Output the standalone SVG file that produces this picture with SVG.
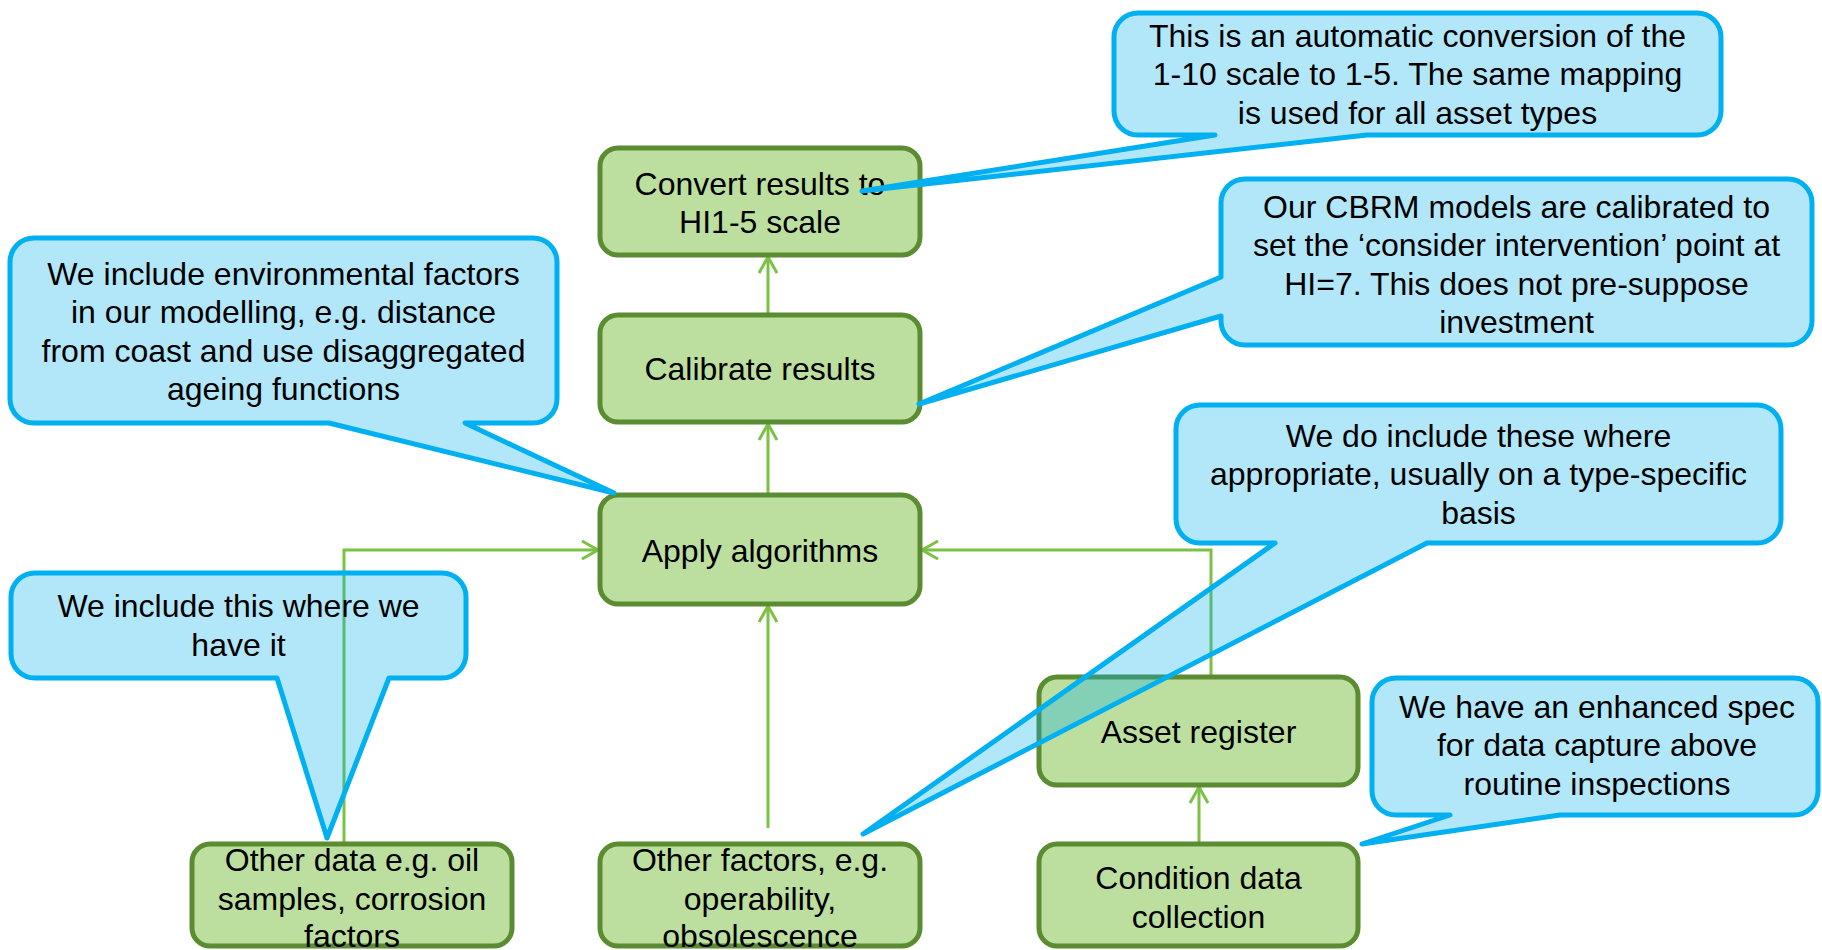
<svg xmlns="http://www.w3.org/2000/svg" width="1822" height="950" viewBox="0 0 1822 950">
  <style>
    .box { fill: #BCDFA0; stroke: #5B8C32; stroke-width: 5; }
    .call { fill: #00B0F0; fill-opacity: 0.3; stroke: #00B0F0; stroke-width: 5; stroke-linejoin: round; }
    .link { fill: none; stroke: #7BC143; stroke-width: 3; }
    text { font-family: "Liberation Sans", Arial, sans-serif; font-size: 32px; fill: #000; text-anchor: middle; }
  </style>
  <defs>
    <marker id="open-arrow" viewBox="0 0 20 20" refX="18" refY="10" markerWidth="20" markerHeight="20" markerUnits="userSpaceOnUse" orient="auto">
      <path d="M2,1 L18,10 L2,19" fill="none" stroke="#7BC143" stroke-width="3"/>
    </marker>
  </defs>
  <rect width="1822" height="950" fill="#FFFFFF"/>

  <!-- flow connectors -->
  <g id="connectors">
    <path class="link" d="M768,315 V257" marker-end="url(#open-arrow)"/>
    <path class="link" d="M768,495 V424" marker-end="url(#open-arrow)"/>
    <path class="link" d="M768,828 V606" marker-end="url(#open-arrow)"/>
    <path class="link" d="M344,844 V550 H598" marker-end="url(#open-arrow)"/>
    <path class="link" d="M1211,677 V550 H922" marker-end="url(#open-arrow)"/>
    <path class="link" d="M1199,843 V787" marker-end="url(#open-arrow)"/>
  </g>

  <!-- process boxes -->
  <g id="convert">
    <rect class="box" x="600" y="148" width="320" height="107" rx="18"/>
    <text x="760" y="195">Convert results to</text>
    <text x="760" y="233">HI1-5 scale</text>
  </g>
  <g id="calibrate">
    <rect class="box" x="600" y="315" width="320" height="107" rx="18"/>
    <text x="760" y="380">Calibrate results</text>
  </g>
  <g id="apply">
    <rect class="box" x="600" y="495" width="320" height="109" rx="18"/>
    <text x="760" y="562">Apply algorithms</text>
  </g>
  <g id="asset-register">
    <rect class="box" x="1039" y="677" width="319" height="108" rx="18"/>
    <text x="1198.5" y="743">Asset register</text>
  </g>
  <g id="condition-data">
    <rect class="box" x="1039" y="844" width="319" height="102" rx="18"/>
    <text x="1198.5" y="889">Condition data</text>
    <text x="1198.5" y="928">collection</text>
  </g>
  <g id="other-factors">
    <rect class="box" x="600" y="844" width="320" height="102" rx="18"/>
    <text x="760" y="871">Other factors, e.g.</text>
    <text x="760" y="910">operability,</text>
    <text x="760" y="947">obsolescence</text>
  </g>
  <g id="other-data">
    <rect class="box" x="192" y="844" width="320" height="102" rx="18"/>
    <text x="352" y="871">Other data e.g. oil</text>
    <text x="352" y="910">samples, corrosion</text>
    <text x="352" y="947">factors</text>
  </g>

  <!-- speech-bubble notes -->
  <g id="note-conversion">
    <path class="call" d="M1138,13 H1697 A24,24 0 0 1 1721,37 V111 A24,24 0 0 1 1697,135 H1367 L862,191 L1215,135 H1138 A24,24 0 0 1 1114,111 V37 A24,24 0 0 1 1138,13 Z"/>
    <text x="1417.5" y="47">This is an automatic conversion of the</text>
    <text x="1417.5" y="85.4">1-10 scale to 1-5. The same mapping</text>
    <text x="1417.5" y="123.8">is used for all asset types</text>
  </g>
  <g id="note-calibration">
    <path class="call" d="M1245,179 H1788 A24,24 0 0 1 1812,203 V321 A24,24 0 0 1 1788,345 H1245 A24,24 0 0 1 1221,321 V316 L919,404 L1221,277 V203 A24,24 0 0 1 1245,179 Z"/>
    <text x="1516.5" y="218">Our CBRM models are calibrated to</text>
    <text x="1516.5" y="256.4">set the ‘consider intervention’ point at</text>
    <text x="1516.5" y="294.8">HI=7. This does not pre-suppose</text>
    <text x="1516.5" y="333.2">investment</text>
  </g>
  <g id="note-environment">
    <path class="call" d="M34,238 H533 A24,24 0 0 1 557,262 V399 A24,24 0 0 1 533,423 H465 L614,493 L329,423 H34 A24,24 0 0 1 10,399 V262 A24,24 0 0 1 34,238 Z"/>
    <text x="283.5" y="285">We include environmental factors</text>
    <text x="283.5" y="323.4">in our modelling, e.g. distance</text>
    <text x="283.5" y="361.8">from coast and use disaggregated</text>
    <text x="283.5" y="400.2">ageing functions</text>
  </g>
  <g id="note-other-factors">
    <path class="call" d="M1200,405 H1757 A24,24 0 0 1 1781,429 V519 A24,24 0 0 1 1757,543 H1427 L863,834 L1275,543 H1200 A24,24 0 0 1 1176,519 V429 A24,24 0 0 1 1200,405 Z"/>
    <text x="1478.5" y="447">We do include these where</text>
    <text x="1478.5" y="485.4">appropriate, usually on a type-specific</text>
    <text x="1478.5" y="523.8">basis</text>
  </g>
  <g id="note-condition">
    <path class="call" d="M1396,678 H1794 A24,24 0 0 1 1818,702 V791 A24,24 0 0 1 1794,815 H1560 L1362,844 L1450,815 H1396 A24,24 0 0 1 1372,791 V702 A24,24 0 0 1 1396,678 Z"/>
    <text x="1597" y="718">We have an enhanced spec</text>
    <text x="1597" y="756.4">for data capture above</text>
    <text x="1597" y="794.8">routine inspections</text>
  </g>
  <g id="note-other-data">
    <path class="call" d="M35,573 H442 A24,24 0 0 1 466,597 V654 A24,24 0 0 1 442,678 H389 L327,838 L277,678 H35 A24,24 0 0 1 11,654 V597 A24,24 0 0 1 35,573 Z"/>
    <text x="238.5" y="617">We include this where we</text>
    <text x="238.5" y="655.5">have it</text>
  </g>
</svg>
